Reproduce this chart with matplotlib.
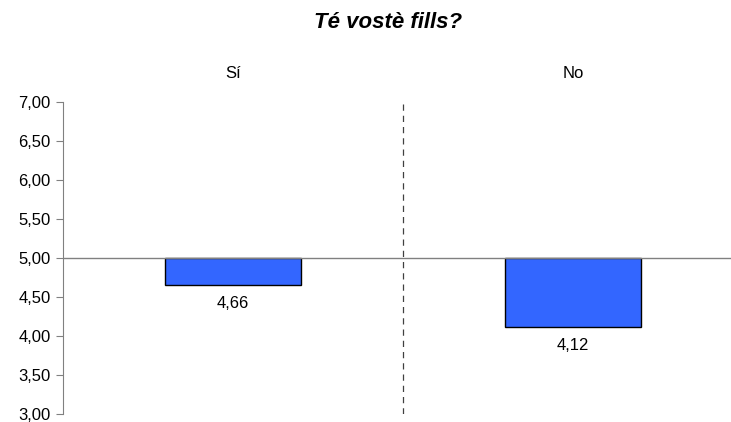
import matplotlib.pyplot as plt
from matplotlib.ticker import FuncFormatter

plt.rcParams['font.family'] = ['Liberation Sans', 'DejaVu Sans']

# dades
categories = ['Sí', 'No']
values = [4.66, 4.12]
baseline = 5.0
yticks = [3.0, 3.5, 4.0, 4.5, 5.0, 5.5, 6.0, 6.5, 7.0]

W, H = 731, 422
fig = plt.figure(figsize=(W / 100, H / 100), dpi=100)
# eix de 63 a 731 px en x, de 102 a 414 px en y
ax = fig.add_axes([63 / W, (H - 414) / H, (731 - 63) / W, (414 - 102) / H])

x = [0.5, 1.5]
heights = [v - baseline for v in values]
ax.bar(x, heights, width=0.4, bottom=baseline, color='#3366FF',
       edgecolor='black', linewidth=1)

# valors sota cada barra
for xi, v in zip(x, values):
    ax.text(xi, v - 0.245, f'{v:.2f}'.replace('.', ','), ha='center', va='center',
            fontsize=12)

# línia de referència i separador
ax.axhline(baseline, color='#808080', linewidth=1)
ax.axvline(1.0, color='#404040', linewidth=0.9, linestyle=(0, (5, 4)))

ax.set_xlim(0, 2 * (731 - 63) / 680)
ax.set_ylim(3, 7)
ax.set_yticks(yticks)
ax.yaxis.set_major_formatter(FuncFormatter(lambda v, p: f'{v:.2f}'.replace('.', ',')))
ax.tick_params(axis='y', direction='out', length=5, color='#808080', labelsize=12, pad=4)
ax.set_xticks([])

for s in ['top', 'right', 'bottom']:
    ax.spines[s].set_visible(False)
ax.spines['left'].set_color('#808080')

# etiquetes de categoria a dalt
for xi, c in zip(x, categories):
    fig.text((63 + xi * 340) / W, 1 - 73 / H, c, ha='center', va='center', fontsize=12)

fig.text(388 / W, 1 - 22 / H, 'Té vostè fills?', ha='center', va='center',
         fontsize=16, fontweight='bold', fontstyle='italic')

fig.savefig('out.png', dpi=100)
